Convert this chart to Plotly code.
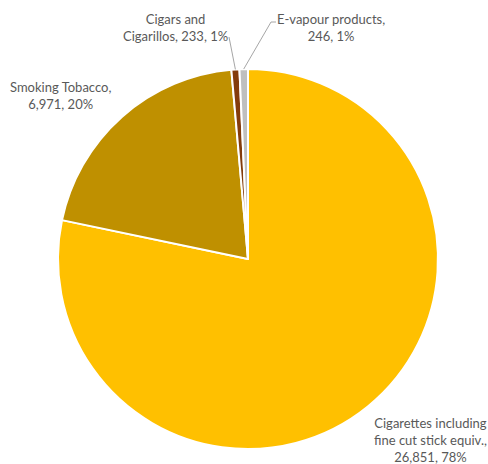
import math
import plotly.graph_objects as go

# Tobacco product volumes
categories = ["Cigarettes including fine cut stick equiv.", "Smoking Tobacco",
              "Cigars and Cigarillos", "E-vapour products"]
label_lines = [["Cigarettes including", "fine cut stick equiv.,"],
               ["Smoking Tobacco,"],
               ["Cigars and", "Cigarillos,"],
               ["E-vapour products,"]]
values = [26851, 6971, 233, 246]
colors = ["#FFC000", "#BF9000", "#843C0C", "#BFBFBF"]

W, H = 488, 464
CX, CY, R = 248, 259, 190  # pie centre and radius in pixels


def px(x, y):
    return x / W, 1 - y / H


total = sum(values)
pcts = [v / total * 100 for v in values]

fig = go.Figure(go.Pie(
    labels=categories,
    values=values,
    sort=False,
    direction="clockwise",
    rotation=0,
    marker=dict(colors=colors, line=dict(color="white", width=2)),
    textinfo="none",
    hoverinfo="label+value+percent",
    showlegend=False,
    domain=dict(x=[(CX - R) / W, (CX + R) / W],
                y=[1 - (CY + R) / H, 1 - (CY - R) / H]),
))


def label_text(i):
    lines = list(label_lines[i])
    tail = f"{values[i]:,}, {pcts[i]:.0f}%"
    if i == 2:
        lines[-1] = lines[-1] + " " + tail
    else:
        lines.append(tail)
    return "<br>".join(lines)


# label centres (pixels)
label_pos = [(430, 440), (60, 95), (175, 27), (331, 27)]

annotations = []
for i, (lx, ly) in enumerate(label_pos):
    x, y = px(lx, ly)
    annotations.append(dict(
        x=x, y=y, xref="paper", yref="paper", text=label_text(i),
        showarrow=False, xanchor="center", yanchor="middle", align="center",
        font=dict(family="Lato, Carlito, Calibri, sans-serif", size=13, color="#595959"),
    ))

# leader lines from the small slices to their labels
shapes = []
cum = 0
mids = []
for v in values:
    mids.append((cum + v / 2) / total * 360)
    cum += v

leader_ends = {2: [(229, 37)], 3: [(271, 22), (276, 22)]}
for i, pts in leader_ends.items():
    a = math.radians(mids[i])
    sx, sy = CX + R * math.sin(a), CY - R * math.cos(a)
    path = [(sx, sy)] + pts
    for (x0, y0), (x1, y1) in zip(path[:-1], path[1:]):
        p0, p1 = px(x0, y0), px(x1, y1)
        shapes.append(dict(type="line", xref="paper", yref="paper",
                           x0=p0[0], y0=p0[1], x1=p1[0], y1=p1[1],
                           line=dict(color="#A6A6A6", width=1)))

fig.update_layout(
    width=W, height=H,
    margin=dict(l=0, r=0, t=0, b=0),
    paper_bgcolor="white", plot_bgcolor="white",
    annotations=annotations, shapes=shapes,
)

fig.write_html("out.html")
